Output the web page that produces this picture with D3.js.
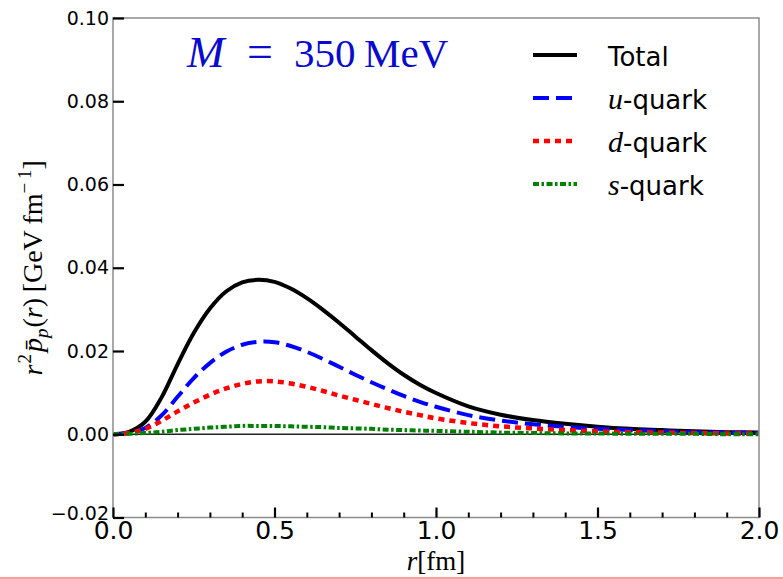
<!DOCTYPE html>
<html>
<head>
<meta charset="utf-8">
<script src="https://cdn.jsdelivr.net/npm/d3@7"></script>
<style>
  html, body { margin: 0; padding: 0; background: #fff; }
  svg { display: block; }
</style>
</head>
<body>
<svg id="chart" width="783" height="579"></svg>
<script>
// ---- data ----
const rValues = [0, 0.05, 0.1, 0.15, 0.2, 0.25, 0.3, 0.35, 0.4, 0.45, 0.5, 0.55, 0.6, 0.65, 0.7, 0.75, 0.8, 0.85, 0.9, 0.95, 1.0, 1.1, 1.2, 1.3, 1.4, 1.5, 1.6, 1.7, 1.8, 1.9, 2.0];
const totalValues = [0, 0.0006, 0.0030, 0.0088, 0.0168, 0.0243, 0.0302, 0.0343, 0.0365, 0.0371, 0.0366, 0.0350, 0.0327, 0.0299, 0.0268, 0.0235, 0.0202, 0.0171, 0.0143, 0.0119, 0.0099, 0.0067, 0.0047, 0.0034, 0.0025, 0.0018, 0.0013, 0.0010, 0.0007, 0.0005, 0.0004];
const uValues = [0, 0.0003, 0.0015, 0.0045, 0.0090, 0.0135, 0.0171, 0.0198, 0.0215, 0.0222, 0.0221, 0.0212, 0.0198, 0.0181, 0.0162, 0.0143, 0.0125, 0.0108, 0.0092, 0.0078, 0.0066, 0.0046, 0.0033, 0.0024, 0.0018, 0.0013, 0.0010, 0.0007, 0.0005, 0.0004, 0.0003];
const dValues = [0, 0.0003, 0.0013, 0.0032, 0.0055, 0.0076, 0.0095, 0.0110, 0.0121, 0.0127, 0.0127, 0.0122, 0.0114, 0.0104, 0.0093, 0.0083, 0.0073, 0.0063, 0.0054, 0.0046, 0.0038, 0.0027, 0.0019, 0.0014, 0.0010, 0.0007, 0.0005, 0.0004, 0.0003, 0.0002, 0.0002];
const sValues = [0, 0.0001, 0.0003, 0.0006, 0.0010, 0.0013, 0.0016, 0.0018, 0.0020, 0.0020, 0.0020, 0.0019, 0.0018, 0.0017, 0.0015, 0.0014, 0.0013, 0.0011, 0.0010, 0.0009, 0.0008, 0.0006, 0.0004, 0.0003, 0.0002, 0.0002, 0.0001, 0.0001, 0.0001, 0.0000, 0.0000];
const seriesNames = ["Total", "u", "d", "s"];
const xTickValues = [0.0, 0.5, 1.0, 1.5, 2.0];
const xMinorTickValues = [0.1, 0.2, 0.3, 0.4, 0.6, 0.7, 0.8, 0.9, 1.1, 1.2, 1.3, 1.4, 1.6, 1.7, 1.8, 1.9];
const yTickValues = [-0.02, 0.0, 0.02, 0.04, 0.06, 0.08, 0.10];

// ---- layout ----
const svg = d3.select("#chart");
const mLeft = 113, mRight = 759, mTop = 18, mBottom = 517.5;
const x = d3.scaleLinear().domain([0, 2]).range([mLeft, mRight]);
const y = d3.scaleLinear().domain([-0.02, 0.10]).range([mBottom, mTop]);

const styles = {
  Total: { color: "#000000", dash: null, width: 4 },
  u: { color: "#0000ff", dash: "16,7", width: 4 },
  d: { color: "#ff0000", dash: "6,5", width: 4.5 },
  s: { color: "#008000", dash: "6,2.5,2.5,2.5", width: 4 }
};
const seriesData = { Total: totalValues, u: uValues, d: dValues, s: sValues };

// zero line
svg.append("line")
  .attr("x1", x(0)).attr("x2", x(2))
  .attr("y1", y(0)).attr("y2", y(0))
  .attr("stroke", "#222").attr("stroke-width", 1.5);

// curves
svg.append("clipPath").attr("id", "clip")
  .append("rect").attr("x", mLeft).attr("y", mTop).attr("width", mRight - mLeft).attr("height", mBottom - mTop);

const line = d3.line()
  .x((d, i) => x(rValues[i]))
  .y(d => y(d))
  .curve(d3.curveCatmullRom.alpha(0.5));

seriesNames.forEach(name => {
  const st = styles[name];
  svg.append("path")
    .datum(seriesData[name])
    .attr("clip-path", "url(#clip)")
    .attr("d", line)
    .attr("fill", "none")
    .attr("stroke", st.color)
    .attr("stroke-width", st.width)
    .attr("stroke-dasharray", st.dash)
    .attr("stroke-linejoin", "round");
});

// spines
const spine = "#8c8c8c";
svg.append("rect")
  .attr("x", mLeft).attr("y", mTop)
  .attr("width", mRight - mLeft).attr("height", mBottom - mTop)
  .attr("fill", "none").attr("stroke", spine).attr("stroke-width", 1.5);

// y axis (ticks inward)
const yAxis = d3.axisLeft(y).tickValues(yTickValues)
  .tickSizeInner(-11).tickSizeOuter(0).tickPadding(4)
  .tickFormat(d => d3.format(".2f")(d).replace("-", "\u2212"));
const gy = svg.append("g").attr("transform", `translate(${mLeft},0)`).call(yAxis);
gy.select(".domain").remove();
gy.selectAll(".tick line").attr("stroke", "#000").attr("stroke-width", 2.2);
gy.selectAll(".tick text")
  .attr("font-family", "DejaVu Sans").attr("font-size", 19).attr("fill", "#000")
  .attr("dy", d => d === -0.02 ? "0.1em" : "0.32em");

// x axis major ticks inward
const xAxis = d3.axisBottom(x).tickValues(xTickValues)
  .tickSizeInner(-10).tickSizeOuter(0).tickPadding(4)
  .tickFormat(d3.format(".1f"));
const gx = svg.append("g").attr("transform", `translate(0,${mBottom})`).call(xAxis);
gx.select(".domain").remove();
gx.selectAll(".tick line").attr("stroke", "#000").attr("stroke-width", 2.2);
gx.selectAll(".tick text")
  .attr("font-family", "DejaVu Sans").attr("font-size", 25).attr("fill", "#000")
  .attr("dy", "0.70em");

// x minor ticks
const xMinor = d3.axisBottom(x).tickValues(xMinorTickValues)
  .tickSizeInner(-5).tickSizeOuter(0).tickFormat("");
const gxm = svg.append("g").attr("transform", `translate(0,${mBottom})`).call(xMinor);
gxm.select(".domain").remove();
gxm.selectAll(".tick line").attr("stroke", "#000").attr("stroke-width", 2);

// x label
const xl = svg.append("text")
  .attr("x", (mLeft + mRight) / 2).attr("y", 570)
  .attr("text-anchor", "middle")
  .attr("font-family", "Liberation Serif").attr("font-size", 27).attr("fill", "#000");
xl.append("tspan").attr("font-style", "italic").text("r");
xl.append("tspan").text("[fm]");

// y label
const yl = svg.append("text")
  .attr("transform", `translate(42,${(mTop + mBottom) / 2}) rotate(-90)`)
  .attr("text-anchor", "middle")
  .attr("font-family", "Liberation Serif").attr("font-size", 28).attr("fill", "#000");
yl.append("tspan").attr("font-style", "italic").text("r");
yl.append("tspan").attr("font-size", 19).attr("dy", -11).attr("dx", 1).text("2");
yl.append("tspan").attr("font-style", "italic").attr("dy", 11).attr("dx", 2).text("p\u0304");
yl.append("tspan").attr("font-style", "italic").attr("font-size", 19).attr("dy", 6).text("p");
yl.append("tspan").attr("dy", -6).attr("dx", 1).text("(");
yl.append("tspan").attr("font-style", "italic").text("r");
yl.append("tspan").text(")\u2009[GeV\u2009fm");
yl.append("tspan").attr("font-size", 19).attr("dy", -11).text("\u2212\u20091");
yl.append("tspan").attr("dy", 11).text("]");

// title annotation
const title = svg.append("text")
  .attr("x", 187).attr("y", 67)
  .attr("font-family", "Liberation Serif").attr("font-size", 41).attr("fill", "#0a0acc");
title.append("tspan").attr("font-style", "italic").attr("font-size", 45).text("M");
title.append("tspan").attr("x", 247).attr("font-size", 46).text("=");
title.append("tspan").attr("x", 294).text("350");
title.append("tspan").attr("x", 364).text("MeV");

// legend
const legendRows = [
  { key: "Total", prefix: "", label: "Total" },
  { key: "u", prefix: "u", label: "-quark" },
  { key: "d", prefix: "d", label: "-quark" },
  { key: "s", prefix: "s", label: "-quark" }
];
const legY = [55, 98, 141, 184];
legendRows.forEach((row, i) => {
  const st = styles[row.key];
  svg.append("line")
    .attr("x1", 533).attr("x2", 577)
    .attr("y1", legY[i]).attr("y2", legY[i])
    .attr("stroke", st.color).attr("stroke-width", st.width)
    .attr("stroke-dasharray", st.dash);
  const t = svg.append("text")
    .attr("x", 608).attr("y", legY[i] + 11)
    .attr("font-family", "DejaVu Sans").attr("font-size", 26).attr("fill", "#000");
  if (row.prefix) {
    t.append("tspan").attr("font-family", "Liberation Serif").attr("font-style", "italic")
      .attr("font-size", 30).text(row.prefix);
  }
  t.append("tspan").text(row.label);
});

// bottom border line
svg.append("line")
  .attr("x1", 0).attr("x2", 783).attr("y1", 578).attr("y2", 578)
  .attr("stroke", "#f08070").attr("stroke-width", 1.5);
</script>
</body>
</html>
